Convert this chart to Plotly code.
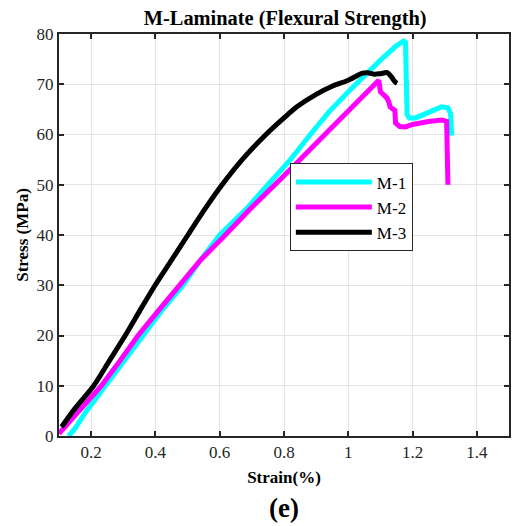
import plotly.graph_objects as go

# M-1 (cyan)
m1_strain = [0.13, 0.15, 0.18, 0.244, 0.30, 0.358, 0.42, 0.486, 0.54, 0.60, 0.68, 0.75, 0.82, 0.882, 0.94, 1.0,
             1.05, 1.10, 1.147, 1.165, 1.172, 1.178, 1.18, 1.183, 1.19, 1.21, 1.25, 1.27, 1.29, 1.31, 1.318, 1.322]
m1_stress = [0.0, 1.5, 4.5, 10.0, 15.0, 20.0, 25.0, 30.0, 35.0, 40.0, 45.0, 50.0, 55.0, 60.0, 64.5, 68.5,
             71.8, 74.8, 77.5, 78.4, 78.6, 78.3, 75.0, 64.0, 63.3, 63.3, 64.4, 65.0, 65.5, 65.3, 64.2, 59.8]

# M-2 (magenta)
m2_strain = [0.10, 0.15, 0.232, 0.29, 0.346, 0.41, 0.475, 0.54, 0.61, 0.70, 0.80, 0.90, 1.0, 1.05, 1.095,
             1.10, 1.11, 1.12, 1.126, 1.13, 1.136, 1.145, 1.147, 1.16, 1.178, 1.20, 1.25, 1.291, 1.306, 1.308, 1.31]
m2_stress = [0.5, 4.0, 10.0, 15.0, 20.0, 25.0, 30.0, 35.0, 39.5, 45.5, 51.8, 58.3, 64.5, 67.7, 70.8,
             68.5, 67.8, 67.3, 66.5, 65.5, 65.2, 64.8, 62.3, 61.6, 61.5, 62.0, 62.6, 62.9, 62.6, 57.0, 50.0]

# M-3 (black)
m3_strain = [0.108, 0.15, 0.208, 0.257, 0.306, 0.352, 0.399, 0.45, 0.501, 0.55, 0.605, 0.67, 0.744, 0.80,
             0.84, 0.90, 0.95, 1.0, 1.044, 1.06, 1.08, 1.10, 1.121, 1.135, 1.145, 1.152]
m3_stress = [1.8, 5.5, 10.0, 15.0, 20.0, 25.0, 30.0, 35.0, 40.0, 44.8, 49.8, 55.0, 60.0, 63.3,
             65.5, 68.0, 69.6, 70.8, 72.2, 72.3, 72.0, 72.1, 72.3, 71.4, 70.5, 70.2]

x_ticks = [0.2, 0.4, 0.6, 0.8, 1.0, 1.2, 1.4]
x_tick_labels = ["0.2", "0.4", "0.6", "0.8", "1", "1.2", "1.4"]
y_ticks = [0, 10, 20, 30, 40, 50, 60, 70, 80]

FONT = "Liberation Serif, Times New Roman, serif"
AXC = "#262626"

fig = go.Figure()
for name, xs, ys, col, shape in [("M-1", m1_strain, m1_stress, "#00FFFF", "linear"),
                                 ("M-2", m2_strain, m2_stress, "#FF00FF", "linear"),
                                 ("M-3", m3_strain, m3_stress, "#000000", "spline")]:
    fig.add_trace(go.Scatter(x=xs, y=ys, mode="lines", name=name,
                             line=dict(color=col, width=5, shape=shape, smoothing=0.8)))

axis_common = dict(showline=True, linecolor=AXC, linewidth=2, mirror="ticks",
                   ticks="inside", ticklen=5, tickwidth=1.5, tickcolor=AXC,
                   showgrid=True, gridcolor="#e3e3e3", gridwidth=1, zeroline=False,
                   tickfont=dict(family=FONT, size=17, color=AXC))

fig.update_layout(
    width=512, height=526,
    margin=dict(l=59, r=1, t=34, b=90),
    plot_bgcolor="white", paper_bgcolor="white",
    font=dict(family=FONT),
    title=dict(text="<b>M-Laminate (Flexural Strength)</b>", x=0.557, xanchor="center",
               y=1 - 18 / 526, yanchor="middle",
               font=dict(family=FONT, size=20.4, color="#000")),
    xaxis=dict(range=[0.1, 1.5], tickvals=x_ticks, ticktext=x_tick_labels,
               title=dict(text="<b>Strain(%)</b>", font=dict(family=FONT, size=17, color="#000"),
                          standoff=10),
               **axis_common),
    yaxis=dict(range=[0, 80], tickvals=y_ticks,
               title=dict(text="<b>Stress (MPa)</b>", font=dict(family=FONT, size=17, color="#000"),
                          standoff=4),
               **axis_common),
    legend=dict(x=0.513, y=0.678, xanchor="left", yanchor="top",
                bgcolor="white", bordercolor=AXC, borderwidth=1,
                font=dict(family=FONT, size=17, color="#000"),
                itemwidth=76, tracegroupgap=0),
    showlegend=True,
    annotations=[dict(text="<b>(e)</b>", x=0.5, y=(436 - 508) / 402, xref="paper", yref="paper",
                      showarrow=False, xanchor="center", yanchor="middle",
                      font=dict(family=FONT, size=27, color="#000"))],
)

fig.write_html("out.html", config={"displayModeBar": False},
               post_script="document.body.style.margin='0';")
